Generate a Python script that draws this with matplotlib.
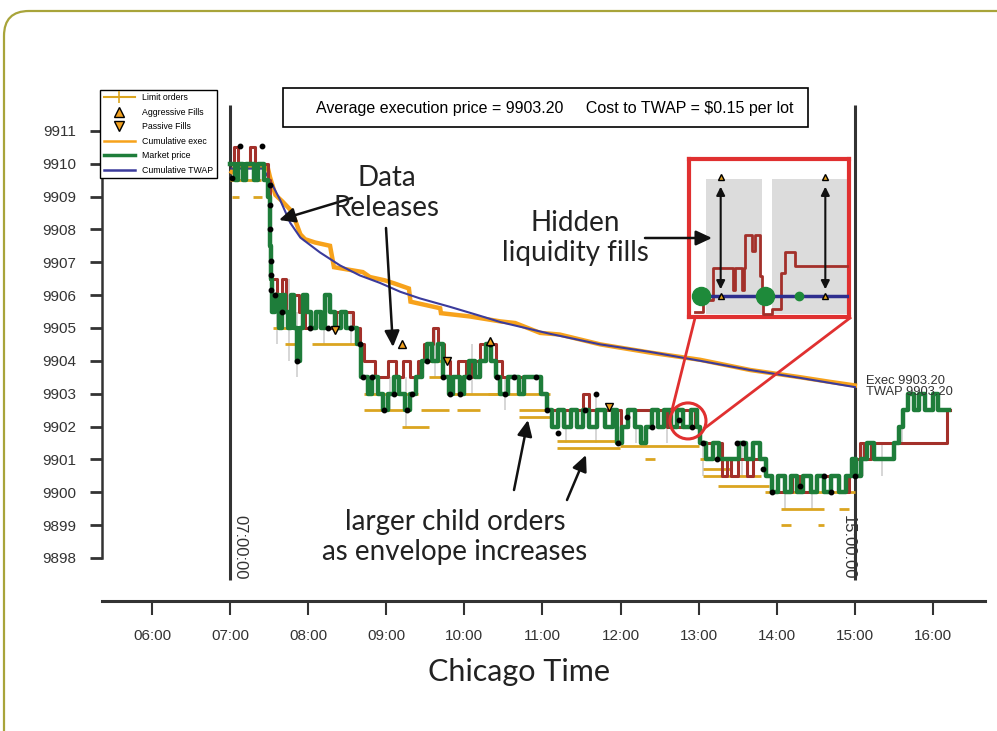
import matplotlib
matplotlib.use("Agg")
import matplotlib.pyplot as plt
from matplotlib.lines import Line2D
from matplotlib.patches import FancyBboxPatch, Rectangle, Ellipse, FancyArrowPatch

# ---- data (hours of Chicago time, price) ----
hour_ticks = [6, 7, 8, 9, 10, 11, 12, 13, 14, 15, 16]
hour_labels = ["06:00", "07:00", "08:00", "09:00", "10:00", "11:00",
               "12:00", "13:00", "14:00", "15:00", "16:00"]
price_ticks = list(range(9898, 9912))

mkt_t = [7.00, 7.06, 7.10, 7.16, 7.20, 7.30, 7.36, 7.44, 7.49, 7.51, 7.52, 7.54,
         7.58, 7.62, 7.66, 7.70, 7.74, 7.78, 7.82, 7.86, 7.90, 7.94, 7.98, 8.04,
         8.10, 8.16, 8.22, 8.28, 8.34, 8.42, 8.48, 8.62, 8.68, 8.76, 8.82, 8.90,
         8.96, 9.02, 9.10, 9.16, 9.24, 9.30, 9.38, 9.46, 9.52, 9.58, 9.66, 9.72,
         9.80, 9.86, 9.94, 10.00, 10.06, 10.14, 10.20, 10.28, 10.34, 10.40, 10.46,
         10.56, 10.70, 10.76, 10.98, 11.06, 11.12, 11.20, 11.28, 11.36, 11.44,
         11.52, 11.60, 11.70, 11.80, 11.90, 11.96, 12.02, 12.10, 12.18, 12.26,
         12.32, 12.40, 12.48, 12.56, 12.64, 12.72, 12.80, 12.90, 12.98, 13.02,
         13.10, 13.18, 13.26, 13.40, 13.52, 13.60, 13.70, 13.78, 13.86, 13.94,
         14.02, 14.10, 14.18, 14.26, 14.34, 14.44, 14.52, 14.60, 14.70, 14.80,
         14.88, 14.96, 15.02, 15.08, 15.16, 15.24, 15.40, 15.50, 15.56, 15.62,
         15.68, 15.76, 15.82, 15.90, 16.00, 16.06, 16.20]
mkt_p = [9910.0, 9909.5, 9910.0, 9909.5, 9910.0, 9909.5, 9910.0, 9909.5, 9909.0,
         9907.5, 9906.5, 9905.5, 9906.0, 9905.0, 9906.0, 9905.5, 9905.0, 9906.0,
         9905.0, 9904.0, 9905.0, 9906.0, 9905.5, 9905.0, 9905.5, 9905.0, 9906.0,
         9905.5, 9905.0, 9905.5, 9905.0, 9904.5, 9903.5, 9903.0, 9903.5, 9903.0,
         9902.5, 9903.0, 9903.5, 9903.0, 9902.5, 9903.0, 9903.5, 9904.0, 9904.5,
         9904.0, 9904.5, 9903.5, 9903.0, 9903.5, 9903.0, 9903.5, 9904.0, 9903.5,
         9904.0, 9904.5, 9904.0, 9903.5, 9903.0, 9903.5, 9903.0, 9903.5, 9903.0,
         9902.5, 9902.0, 9902.5, 9902.0, 9902.5, 9902.0, 9902.5, 9902.0, 9902.5,
         9902.0, 9902.5, 9901.5, 9902.0, 9902.5, 9902.0, 9901.5, 9902.0, 9902.5,
         9902.0, 9902.5, 9902.0, 9902.5, 9902.0, 9902.5, 9902.0, 9901.5, 9901.0,
         9901.5, 9901.0, 9901.0, 9901.5, 9901.0, 9901.5, 9901.0, 9900.5, 9900.0,
         9900.5, 9900.0, 9900.5, 9900.0, 9900.5, 9900.0, 9900.5, 9900.0, 9900.5,
         9900.0, 9900.5, 9901.0, 9900.5, 9901.0, 9901.5, 9901.0, 9901.0, 9901.5,
         9902.0, 9902.5, 9903.0, 9902.5, 9903.0, 9902.5, 9903.0, 9902.5, 9902.5]

red_t = [7.00, 7.05, 7.10, 7.25, 7.32, 7.49, 7.51, 7.56, 7.60, 7.66, 7.72, 7.80,
         7.88, 7.96, 8.10, 8.20, 8.36, 8.58, 8.66, 8.72, 8.86, 8.96, 9.02, 9.12,
         9.22, 9.30, 9.40, 9.48, 9.60, 9.66, 9.74, 9.82, 9.92, 10.02, 10.10, 10.20,
         10.40, 10.48, 10.98, 11.06, 11.40, 11.52, 11.60, 12.00, 12.10, 12.50,
         12.60, 12.80, 12.95, 13.02, 13.30, 13.36, 13.42, 13.50, 13.62, 13.70,
         13.86, 13.94, 14.20, 14.30, 14.50, 14.80, 14.92, 15.00, 15.06, 15.12,
         15.20, 16.18, 16.22]
red_p = [9910.0, 9910.5, 9910.0, 9910.5, 9910.0, 9909.5, 9906.5, 9906.5, 9906.0,
         9906.5, 9905.5, 9906.0, 9905.5, 9905.0, 9905.5, 9905.0, 9905.5, 9905.0,
         9904.5, 9904.0, 9903.5, 9903.5, 9904.0, 9903.5, 9904.0, 9903.5, 9904.0,
         9904.5, 9905.0, 9904.5, 9904.0, 9903.5, 9904.0, 9903.5, 9904.0, 9904.5,
         9904.0, 9903.5, 9903.0, 9902.5, 9902.5, 9903.0, 9902.5, 9902.0, 9902.5,
         9902.5, 9902.0, 9902.5, 9902.0, 9901.5, 9900.5, 9901.0, 9900.5, 9901.0,
         9900.5, 9901.0, 9900.5, 9900.0, 9900.5, 9900.0, 9900.5, 9900.0, 9900.5,
         9901.0, 9901.5, 9901.0, 9901.5, 9902.5, 9902.5]

exec_t = [7.02, 7.06, 7.48, 7.51, 7.58, 7.67, 7.77, 7.83, 7.90, 7.96, 8.09, 8.28,
          8.33, 8.70, 8.79, 8.98, 9.11, 9.29, 9.31, 9.69, 9.70, 10.07, 10.46,
          10.65, 10.97, 11.22, 11.74, 12.38, 13.02, 13.66, 14.30, 14.68, 15.00]
exec_p = [9909.75, 9909.9, 9909.9, 9909.6, 9909.05, 9908.85, 9908.6, 9908.3,
          9907.85, 9907.7, 9907.6, 9907.5, 9906.85, 9906.7, 9906.55, 9906.45,
          9906.35, 9906.2, 9905.8, 9905.6, 9905.45, 9905.35, 9905.2, 9905.15,
          9904.85, 9904.8, 9904.5, 9904.25, 9904.03, 9903.72, 9903.5, 9903.36,
          9903.25]

twap_t = [7.02, 7.42, 7.51, 7.64, 7.77, 7.90, 8.15, 8.41, 8.66, 8.92, 9.18, 9.43,
          9.82, 10.20, 10.46, 11.10, 11.74, 12.38, 13.02, 13.66, 14.30, 15.00]
twap_p = [9909.85, 9909.85, 9909.5, 9908.9, 9908.2, 9907.75, 9907.3, 9906.9,
          9906.6, 9906.37, 9906.1, 9905.9, 9905.64, 9905.37, 9905.18, 9904.82,
          9904.5, 9904.27, 9904.0, 9903.72, 9903.48, 9903.2]

# limit orders: start hour, end hour, price
lim_t0 = [7.03, 7.29, 7.00, 7.55, 7.70, 8.05, 8.72, 9.10, 8.72, 9.45, 9.20,
          9.50, 9.55, 9.80, 9.90, 10.70, 10.70, 10.30, 11.19, 11.19, 11.99,
          12.31, 13.02, 13.05, 13.05, 13.25, 13.85, 14.05, 14.05, 14.53, 14.80]
lim_t1 = [7.12, 7.41, 7.40, 8.00, 7.90, 8.70, 9.00, 9.40, 9.30, 9.80, 9.55,
          9.70, 9.85, 10.45, 10.20, 11.10, 11.10, 11.10, 11.99, 11.99, 13.00,
          12.44, 13.20, 13.40, 13.80, 13.90, 15.00, 14.60, 14.18, 14.60, 14.92]
lim_p = [9909.0, 9909.0, 9909.5, 9905.0, 9904.5, 9904.5, 9903.0, 9903.0, 9902.5,
         9902.5, 9902.0, 9904.0, 9903.5, 9903.0, 9902.5, 9902.5, 9902.3, 9903.0,
         9901.55, 9901.35, 9901.4, 9901.0, 9901.0, 9900.7, 9900.5, 9900.2,
         9900.0, 9899.5, 9899.0, 9899.0, 9899.5]

# bid/ask range marks (grey)
rng_t = [7.60, 7.75, 7.86, 8.20, 8.55, 9.05, 9.25, 9.62, 10.10, 10.52, 11.30,
         11.68, 12.20, 12.60, 13.05, 13.55, 14.10, 14.45, 15.10, 15.35, 15.60]
rng_lo = [9904.5, 9904.0, 9903.5, 9904.5, 9904.5, 9902.5, 9902.0, 9903.5, 9903.0,
          9902.5, 9901.5, 9901.5, 9901.5, 9901.5, 9900.5, 9900.5, 9899.5, 9899.5,
          9900.5, 9900.5, 9901.5]
rng_hi = [9906.5, 9906.5, 9905.5, 9905.5, 9905.5, 9903.5, 9903.5, 9905.0, 9904.5,
          9903.5, 9902.5, 9903.0, 9902.5, 9902.5, 9901.5, 9901.5, 9900.5, 9900.5,
          9901.5, 9901.5, 9902.5]

fill_t = [7.13, 7.41, 7.03, 7.51, 7.51, 7.51, 7.52, 7.52, 7.53, 7.57, 7.66, 7.86,
          8.02, 8.25, 8.55, 8.66, 8.70, 8.82, 8.97, 9.10, 9.26, 9.33, 9.52, 9.72,
          9.82, 9.95, 10.06, 10.33, 10.42, 10.52, 10.64, 10.92, 11.06, 11.20,
          11.55, 11.68, 11.97, 12.08, 12.40, 12.75, 12.92, 13.05, 13.23, 13.49,
          13.57, 13.82, 13.94, 14.30, 14.60, 14.70, 15.00]
fill_p = [9910.55, 9910.55, 9909.55, 9909.35, 9908.75, 9908.0, 9907.05, 9906.6,
          9906.15, 9906.0, 9905.5, 9904.0, 9905.0, 9905.0, 9905.0, 9904.5, 9903.5,
          9903.5, 9902.5, 9903.0, 9902.5, 9903.0, 9904.0, 9903.5, 9903.0, 9903.0,
          9903.5, 9904.5, 9903.5, 9903.0, 9903.5, 9903.5, 9902.5, 9901.8, 9902.5,
          9903.0, 9901.5, 9902.3, 9902.0, 9902.2, 9902.0, 9901.5, 9901.0, 9901.5,
          9901.5, 9900.7, 9900.0, 9900.2, 9900.5, 9900.0, 9900.5]

aggr_t = [10.33, 9.20]
aggr_p = [9904.6, 9904.5]
pass_t = [8.34, 9.78, 11.85]
pass_p = [9904.95, 9904.0, 9902.6]

# zoomed inset (seconds around 12:52, price offset in ticks)
ins_red_t = [4, 9, 14.8, 27.8, 29, 33.3, 34.5, 35.2, 39.5, 41, 44.4, 45.5,
             46.3, 51.9, 57.5, 59.9, 61.7, 66, 99]
ins_red_p = [0.3, 1.1, 3.1, 1.7, 3.1, 1.7, 3.1, 5.2, 4.2, 5.2, 2.6, 1.7, 0.2,
             0.5, 2.8, 4.1, 4.1, 3.2, 3.2]
ins_fill_t = [19.8, 85.2]
ins_fill_hi = [8.85, 8.85]
ins_fill_lo = [1.35, 1.35]
ins_band_t0 = [10.5, 51.9]
ins_band_t1 = [45.7, 98.8]
ins_mkt_t = [7.4, 47.5, 69.0]
ins_mkt_size = [13, 13, 6]
ins_twap = 1.35

# ---- figure ----
W, H = 997, 731
fig = plt.figure(figsize=(W / 100, H / 100), dpi=100)


def fx(x):
    return x / W


def fy(y):
    return 1 - y / H


fig.patches.append(FancyBboxPatch((fx(4), fy(1000)), fx(1100), fy(11) - fy(1000),
                                  boxstyle="round,pad=0,rounding_size=0.025",
                                  transform=fig.transFigure, fill=False,
                                  edgecolor="#a8a43a", linewidth=1.6,
                                  mutation_aspect=W / H))

ax = fig.add_axes([fx(102), fy(601), fx(985) - fx(102), fy(95) - fy(601)])
ax.set_xlim(5.360, 16.666)
ax.set_ylim(9896.69, 9912.09)

for s in ["top", "right"]:
    ax.spines[s].set_visible(False)
ax.spines["left"].set_bounds(9898, 9912.1)
ax.spines["left"].set_linewidth(1.8)
ax.spines["left"].set_color("#333333")
ax.spines["bottom"].set_linewidth(2.2)
ax.spines["bottom"].set_color("#333333")
ax.set_xticks(hour_ticks)
ax.set_xticklabels(hour_labels)
ax.set_yticks(price_ticks)
ax.tick_params(axis="x", length=10, width=1.5, pad=10, labelsize=11,
               color="#333333", labelcolor="#333333")
ax.tick_params(axis="y", length=8.5, width=2, pad=10, labelsize=11,
               color="#333333", labelcolor="#333333")
for lab in ax.get_xticklabels() + ax.get_yticklabels():
    lab.set_family("Liberation Sans")

ax.vlines([7.0, 15.0], 9897.33, 9911.79, color="#333333", lw=2.2, zorder=2)

# grey spread marks
ax.vlines(rng_t, rng_lo, rng_hi, color="#cfcfcf", lw=1.2, zorder=1)
# limit orders
ax.hlines(lim_p, lim_t0, lim_t1, color="#dba520", lw=2, zorder=2)
# cumulative exec and twap
ax.plot(exec_t, exec_p, color="#f7a21b", lw=3.2, solid_joinstyle="miter",
        zorder=3)
ax.plot(twap_t, twap_p, color="#3b3b9c", lw=1.5, zorder=4)
# red quote line and green market price
ax.plot(red_t, red_p, color="#a3302a", lw=2.2, drawstyle="steps-post", zorder=4)
ax.plot(mkt_t, mkt_p, color="#1e7d3a", lw=3.2, drawstyle="steps-post", zorder=5)
ax.plot(fill_t, fill_p, "o", color="black", ms=3.2, zorder=6)
ax.plot(aggr_t, aggr_p, "^", mfc="#f0a020", mec="black", ms=6, mew=1, zorder=7)
ax.plot(pass_t, pass_p, "v", mfc="#f0a020", mec="black", ms=6, mew=1, zorder=7)

ax.text(7.127, 9899.31, "07:00:00", rotation=-90, ha="center", va="top",
        fontsize=12, family="Liberation Sans", color="#333333")
ax.text(14.91, 9899.31, "15:00:00", rotation=-90, ha="center", va="top",
        fontsize=12, family="Liberation Sans", color="#333333")
ax.text(15.14, exec_p[-1] + 0.15, "Exec %.2f" % 9903.20, fontsize=9.3,
        family="Liberation Sans", color="#333333", va="center", zorder=8)
ax.text(15.14, twap_p[-1] - 0.15, "TWAP %.2f" % 9903.20, fontsize=9.3,
        family="Liberation Sans", color="#333333", va="center", zorder=8)

# highlight circle
ax.add_patch(Ellipse((12.863, 9902.17), 36 / 78.1, 36 / 32.85, fill=False,
                     edgecolor="#e03030", lw=2.2, zorder=9))

# legend
handles = [
    Line2D([], [], color="#dba520", lw=1.5, marker="|", ms=8, mew=1.2),
    Line2D([], [], ls="none", marker="^", mfc="#f0a020", mec="black", ms=6.5),
    Line2D([], [], ls="none", marker="v", mfc="#f0a020", mec="black", ms=6.5),
    Line2D([], [], color="#f7a21b", lw=1.8),
    Line2D([], [], color="#1e7d3a", lw=2.5),
    Line2D([], [], color="#3b3b9c", lw=1.8),
]
labels = ["Limit orders", "Aggressive Fills", "Passive Fills",
          "Cumulative exec", "Market price", "Cumulative TWAP"]
leg = fig.legend(handles, labels, loc="upper left",
                 bbox_to_anchor=(fx(100), fy(90)), borderaxespad=0,
                 frameon=True, fancybox=False, edgecolor="black",
                 framealpha=1, handlelength=3.6, labelspacing=0.62,
                 borderpad=0.4, handletextpad=0.8,
                 prop={"family": "Liberation Sans", "size": 6.3})
leg.get_frame().set_linewidth(1.0)

# header box
fig.patches.append(Rectangle((fx(283), fy(127)), fx(808) - fx(283), fy(88) - fy(127),
                             transform=fig.transFigure, fill=False,
                             edgecolor="black", lw=1.2))
fig.text(fx(555), fy(108),
         "Average execution price = 9903.20     Cost to TWAP = $0.15 per lot",
         ha="center", va="center", fontsize=11.5, family="Liberation Sans")

# annotations
big = dict(fontsize=20, family="Lato", color="#222222", ha="center",
           va="center", multialignment="center", linespacing=1.15)
fig.text(fx(387), fy(193), "Data\nReleases", **big)
fig.text(fx(575), fy(238), "Hidden\nliquidity fills", **big)
fig.text(fx(455), fy(537), "larger child orders\nas envelope increases", **big)
fig.text(fx(519), fy(672), "Chicago Time", fontsize=22, family="Lato",
         color="#222222", ha="center", va="center")

arr = dict(arrowstyle="-|>,head_length=0.6,head_width=0.28", color="#111111",
           lw=1.8, shrinkA=0, shrinkB=0, mutation_scale=16)
for (x0, y0, x1, y1) in [(352, 198, 279, 220), (386, 228, 393, 347),
                         (645, 238, 712, 238), (514, 490, 528, 420),
                         (567, 500, 586, 455)]:
    fig.add_artist(FancyArrowPatch((fx(x0), fy(y0)), (fx(x1), fy(y1)),
                                   transform=fig.transFigure, **arr))

# connector lines from inset to circle
for (x0, y0, x1, y1) in [(695, 318, 672, 410), (850, 318, 705, 428)]:
    fig.add_artist(Line2D([fx(x0), fx(x1)], [fy(y0), fy(y1)],
                          transform=fig.transFigure, color="#e03030", lw=2))

# inset
ins = fig.add_axes([fx(689), fy(317), fx(849) - fx(689), fy(159) - fy(317)])
ins.set_xlim(0, 100)
ins.set_ylim(0, 10)
ins.set_xticks([])
ins.set_yticks([])
for s in ins.spines.values():
    s.set_color("#e03030")
    s.set_linewidth(3)
for t0, t1 in zip(ins_band_t0, ins_band_t1):
    ins.axvspan(t0, t1, ymin=0.02, ymax=0.875, color="#dcdcdc", lw=0, zorder=1)
ins.plot(ins_red_t, ins_red_p, color="#a3302a", lw=2, drawstyle="steps-post",
         zorder=3)
ins.axhline(ins_twap, xmin=0.03, xmax=1, color="#2e2e8e", lw=2.5, zorder=4)
for t, s in zip(ins_mkt_t, ins_mkt_size):
    ins.plot(t, ins_twap - 0.05, "o", color="#1e8a3a", ms=s, zorder=5)
for t, hi, lo in zip(ins_fill_t, ins_fill_hi, ins_fill_lo):
    ins.annotate("", (t, hi - 0.6), (t, lo + 0.4),
                 arrowprops=dict(arrowstyle="<|-|>,head_length=0.5,head_width=0.25",
                                 color="#111111", lw=1.5, shrinkA=0, shrinkB=0),
                 zorder=6)
    ins.plot([t, t], [hi, lo], ls="none", marker="^", mfc="#e0a020",
             mec="black", ms=5, zorder=7)

fig.savefig("out.png", dpi=100)
